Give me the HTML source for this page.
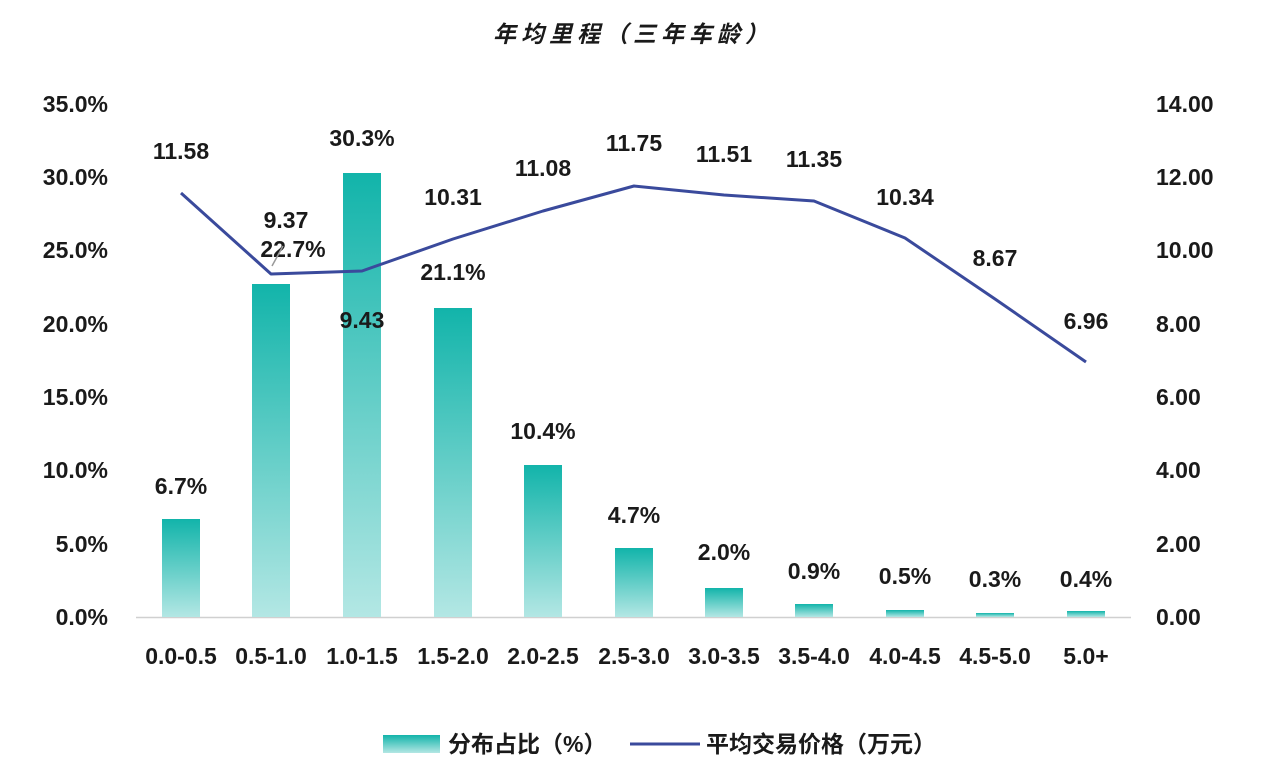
<!DOCTYPE html>
<html><head><meta charset="utf-8"><style>
html,body{margin:0;padding:0;background:#fff;}
svg{display:block;}
text{font-family:"Liberation Sans","Noto Sans CJK SC",sans-serif;font-weight:bold;fill:#1a1a1a;font-size:23px;}
</style></head><body>
<svg width="1263" height="781" viewBox="0 0 1263 781">
<defs><linearGradient id="g" x1="0" y1="0" x2="0" y2="1"><stop offset="0" stop-color="#12b4aa"/><stop offset="1" stop-color="#b3e7e4"/></linearGradient></defs>
<text x="633" y="42" text-anchor="middle" font-style="italic" font-size="24" letter-spacing="5">年均里程（三年车龄）</text>
<g text-anchor="end">
<text x="108" y="112">35.0%</text><text x="108" y="185">30.0%</text><text x="108" y="258">25.0%</text><text x="108" y="332">20.0%</text><text x="108" y="405">15.0%</text><text x="108" y="478">10.0%</text><text x="108" y="552">5.0%</text><text x="108" y="625">0.0%</text>
</g>
<g text-anchor="start">
<text x="1156" y="112">14.00</text><text x="1156" y="185">12.00</text><text x="1156" y="258">10.00</text><text x="1156" y="332">8.00</text><text x="1156" y="405">6.00</text><text x="1156" y="478">4.00</text><text x="1156" y="552">2.00</text><text x="1156" y="625">0.00</text>
</g>
<line x1="136" y1="617.5" x2="1131" y2="617.5" stroke="#d0d0d0" stroke-width="1.5"/>
<g fill="url(#g)">
<rect x="162" y="519" width="38" height="98"/><rect x="252" y="284" width="38" height="333"/><rect x="343" y="173" width="38" height="444"/><rect x="434" y="308" width="38" height="309"/><rect x="524" y="465" width="38" height="152"/><rect x="615" y="548" width="38" height="69"/><rect x="705" y="588" width="38" height="29"/><rect x="795" y="604" width="38" height="13"/><rect x="886" y="610" width="38" height="7"/><rect x="976" y="613" width="38" height="4"/><rect x="1067" y="611" width="38" height="6"/>
</g>
<g text-anchor="middle">
<text x="181" y="664">0.0-0.5</text><text x="271" y="664">0.5-1.0</text><text x="362" y="664">1.0-1.5</text><text x="453" y="664">1.5-2.0</text><text x="543" y="664">2.0-2.5</text><text x="634" y="664">2.5-3.0</text><text x="724" y="664">3.0-3.5</text><text x="814" y="664">3.5-4.0</text><text x="905" y="664">4.0-4.5</text><text x="995" y="664">4.5-5.0</text><text x="1086" y="664">5.0+</text>
<text x="181" y="494">6.7%</text><text x="293" y="257">22.7%</text><text x="362" y="146">30.3%</text><text x="453" y="280">21.1%</text><text x="543" y="439">10.4%</text><text x="634" y="523">4.7%</text><text x="724" y="560">2.0%</text><text x="814" y="579">0.9%</text><text x="905" y="584">0.5%</text><text x="995" y="587">0.3%</text><text x="1086" y="587">0.4%</text>
</g>
<polyline points="283,246 272,266" stroke="#999" stroke-width="1.5" fill="none"/>
<polyline points="181,193 271,274 362,271 453,239 543,211 634,186 724,195 814,201 905,238 995,299 1086,362" stroke="#3a4a9c" stroke-width="3" fill="none" stroke-linejoin="round"/>
<g text-anchor="middle">
<text x="181" y="159">11.58</text><text x="286" y="228">9.37</text><text x="362" y="328">9.43</text><text x="453" y="205">10.31</text><text x="543" y="176">11.08</text><text x="634" y="151">11.75</text><text x="724" y="162">11.51</text><text x="814" y="167">11.35</text><text x="905" y="205">10.34</text><text x="995" y="266">8.67</text><text x="1086" y="329">6.96</text>
</g>
<rect x="383" y="735" width="57" height="18" fill="url(#g)"/>
<text x="448" y="752">分布占比（%）</text>
<line x1="630" y1="744" x2="700" y2="744" stroke="#3a4a9c" stroke-width="3"/>
<text x="706" y="752">平均交易价格（万元）</text>
</svg>
</body></html>
